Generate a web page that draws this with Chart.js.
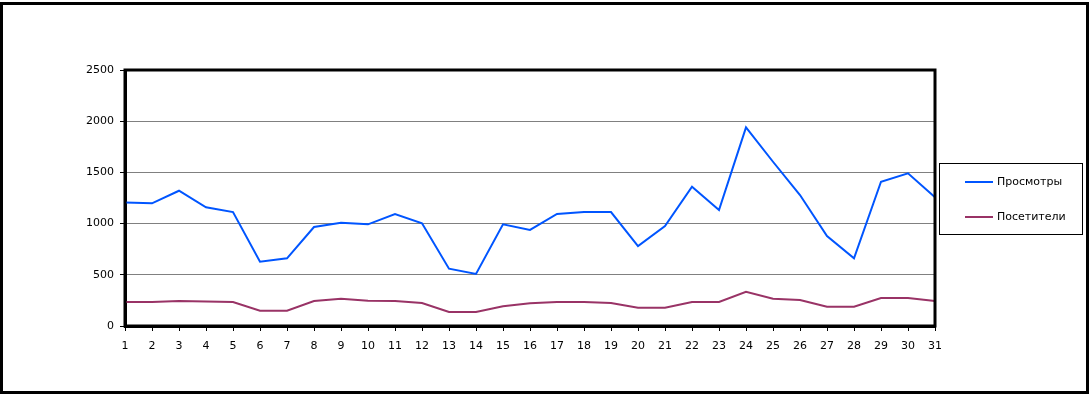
<!DOCTYPE html>
<html lang="ru">
<head>
    <meta charset="UTF-8">
    <title>Просмотры и посетители</title>
    <script src="https://cdn.jsdelivr.net/npm/chart.js"></script>
    <style>
        html, body { margin: 0; padding: 0; background: #fff; }
        #wrap { position: relative; width: 1090px; height: 394px; }
        #frame {
            position: absolute; left: 0; top: 2px; width: 1083px; height: 386px;
            border: 3px solid #000; pointer-events: none;
        }
        #legend {
            position: absolute; left: 939px; top: 163px; width: 142px; height: 70px;
            border: 1.5px solid #000; font: 11px "DejaVu Sans", sans-serif; color: #000;
        }
        .item { position: absolute; left: 25px; height: 14px; line-height: 14px; }
        .item span.sw { display: inline-block; width: 28px; height: 2px; vertical-align: middle; margin-right: 4px; }
    </style>
</head>
<body>
<div id="wrap">
    <canvas id="chart" width="1090" height="394"></canvas>
    <div id="frame"></div>
    <div id="legend"></div>
</div>
<script>
    // Days of the month
    const days = Array.from({ length: 31 }, (_, i) => String(i + 1));

    // Series values
    const views = [1205, 1198, 1321, 1159, 1113, 628, 661, 967, 1009, 993,
                   1094, 1003, 560, 508, 993, 938, 1094, 1113, 1113, 781,
                   975, 1360, 1133, 1940, 1604, 1279, 879, 661, 1409, 1491, 1257];
    const visitors = [234, 234, 244, 240, 234, 150, 150, 244, 267, 247,
                      244, 225, 137, 137, 192, 221, 234, 234, 225, 179,
                      179, 234, 234, 335, 267, 254, 189, 189, 273, 273, 244];

    const seriesNames = ['Просмотры', 'Посетители'];
    const seriesColors = ['#0055ff', '#993366'];

    // Frame around the plot area
    const plotFrame = {
        id: 'plotFrame',
        afterDraw(chart) {
            const a = chart.chartArea, ctx = chart.ctx;
            ctx.save();
            ctx.strokeStyle = '#000';
            ctx.lineWidth = 3;
            ctx.strokeRect(a.left, a.top, a.right - a.left, a.bottom - a.top);
            ctx.restore();
        }
    };

    Chart.defaults.font.family = '"DejaVu Sans", sans-serif';
    Chart.defaults.font.size = 11;
    Chart.defaults.color = '#000';

    new Chart(document.getElementById('chart'), {
        type: 'line',
        data: {
            labels: days,
            datasets: [views, visitors].map((d, i) => ({
                label: seriesNames[i],
                data: d,
                borderColor: seriesColors[i],
                backgroundColor: seriesColors[i],
                borderWidth: 2,
                pointRadius: 0,
                tension: 0
            }))
        },
        options: {
            responsive: false,
            animation: false,
            layout: { padding: { top: 70, right: 155, bottom: 0, left: 0 } },
            plugins: { legend: { display: false }, tooltip: { enabled: false } },
            scales: {
                x: {
                    offset: false,
                    afterFit: s => { s.height = 68; },
                    grid: { drawOnChartArea: false, tickLength: 5, tickColor: '#000', lineWidth: 1 },
                    border: { color: '#000', width: 3 },
                    ticks: { padding: 9, maxRotation: 0, autoSkip: false }
                },
                y: {
                    min: 0, max: 2500,
                    afterFit: s => { s.width = 125; },
                    grid: { color: '#808080', lineWidth: 1, tickLength: 5, tickColor: '#000' },
                    border: { color: '#000', width: 3 },
                    ticks: { stepSize: 500, padding: 6, callback: v => String(v) }
                }
            }
        },
        plugins: [plotFrame]
    });

    // Legend box
    const legend = document.getElementById('legend');
    seriesNames.forEach((name, i) => {
        const it = document.createElement('div');
        it.className = 'item';
        it.style.top = (i === 0 ? 11 : 46) + 'px';
        it.innerHTML = '<span class="sw" style="background:' + seriesColors[i] + '"></span>' + name;
        legend.appendChild(it);
    });
</script>
</body>
</html>
